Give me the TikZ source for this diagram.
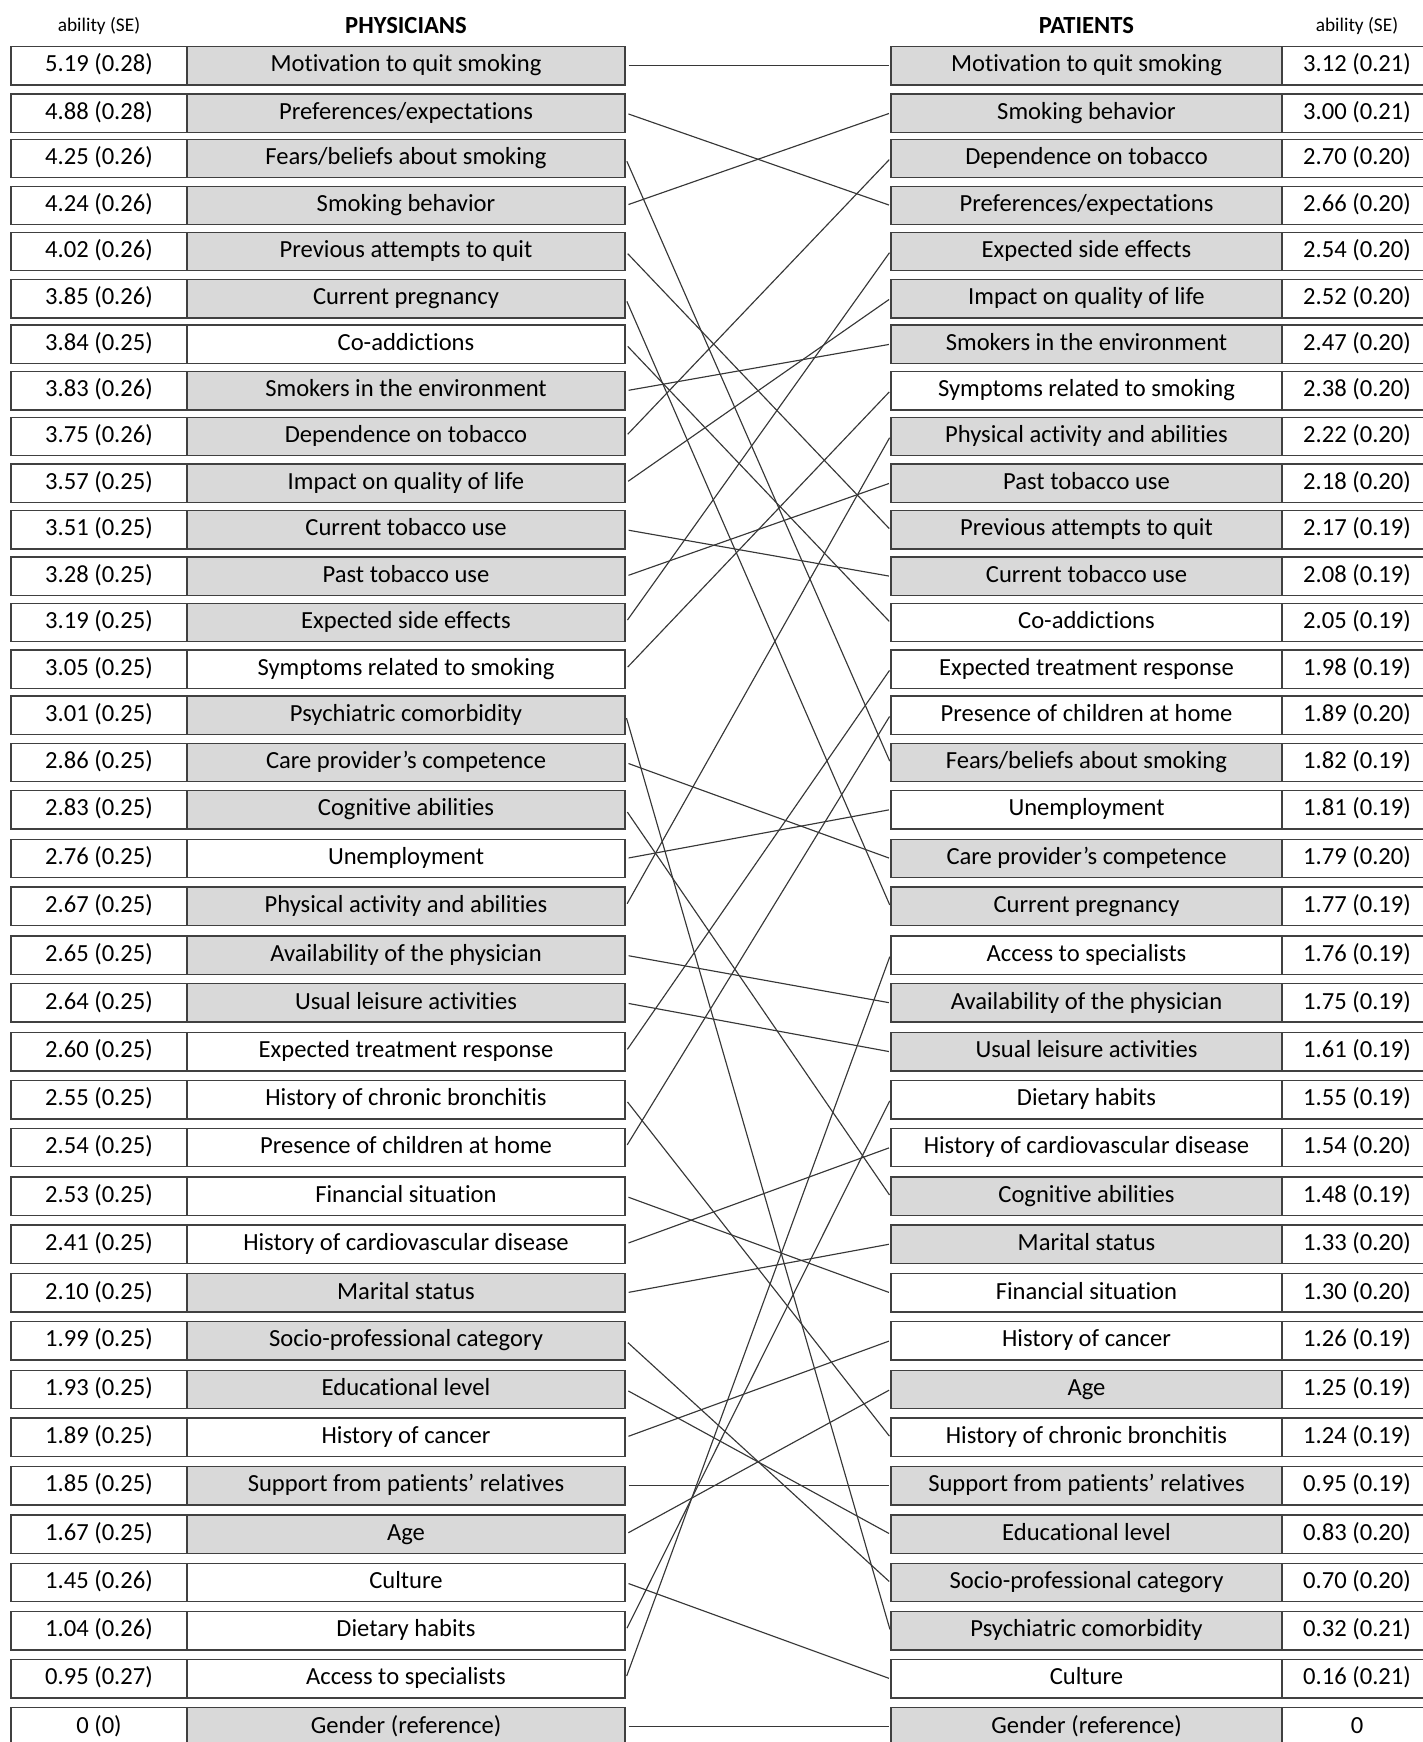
\documentclass[tikz,border=0pt]{standalone}
\usepackage{fontspec}
\setmainfont{Carlito}[Ligatures=NoCommon]
\usepackage{tikz}
\usetikzlibrary{positioning}
\definecolor{cellgray}{RGB}{217,217,217}
\definecolor{rimgray}{RGB}{64,64,64}
\definecolor{linkgray}{RGB}{55,55,55}

\begin{document}
\begin{tikzpicture}[x=0.02cm, y=-0.02cm,
    cell/.style={rectangle, draw=rimgray, line width=0.8pt, minimum height=0.768cm, inner sep=0pt, text height=9.6pt, text depth=2.6pt, fill=white, font=\fontsize{14}{16}\selectfont},
    valcell/.style={cell, minimum width=3.52cm},
    itemcell/.style={cell, minimum width=8.76cm},
    ritemcell/.style={cell, minimum width=7.82cm},
    rvalcell/.style={cell, minimum width=3.0cm},
    grey/.style={fill=cellgray},
    link/.style={draw=linkgray, line width=0.65pt, shorten <=0.06cm, shorten >=0.03cm}]
        \useasboundingbox (0,0) rectangle (1423,1742);
        \clip (0,0) rectangle (1423,1742);

        % headers
        \node[font=\fontsize{11}{13}\selectfont] (lhead) at (99,26) {ability (SE)};
        \node[font=\bfseries\fontsize{14}{16}\selectfont] (phys) at (406,26) {PHYSICIANS};
        \node[font=\bfseries\fontsize{14}{16}\selectfont] (pat) at (1086.5,26) {PATIENTS};
        \node[font=\fontsize{11}{13}\selectfont] (rhead) at (1357,26) {ability (SE)};

        % physicians
        \node[valcell] (lv1) at (99,65.8) {5.19 (0.28)};
        \node[itemcell, grey] (l1) at (406,65.8) {Motivation to quit smoking};
        \node[valcell] (lv2) at (99,113) {4.88 (0.28)};
        \node[itemcell, grey] (l2) at (406,113) {Preferences/expectations};
        \node[valcell] (lv3) at (99,158.5) {4.25 (0.26)};
        \node[itemcell, grey] (l3) at (406,158.5) {Fears/beliefs about smoking};
        \node[valcell] (lv4) at (99,205.5) {4.24 (0.26)};
        \node[itemcell, grey] (l4) at (406,205.5) {Smoking behavior};
        \node[valcell] (lv5) at (99,251.5) {4.02 (0.26)};
        \node[itemcell, grey] (l5) at (406,251.5) {Previous attempts to quit};
        \node[valcell] (lv6) at (99,298.6) {3.85 (0.26)};
        \node[itemcell, grey] (l6) at (406,298.6) {Current pregnancy};
        \node[valcell] (lv7) at (99,344.2) {3.84 (0.25)};
        \node[itemcell] (l7) at (406,344.2) {Co-addictions};
        \node[valcell] (lv8) at (99,390.8) {3.83 (0.26)};
        \node[itemcell, grey] (l8) at (406,390.8) {Smokers in the environment};
        \node[valcell] (lv9) at (99,436.4) {3.75 (0.26)};
        \node[itemcell, grey] (l9) at (406,436.4) {Dependence on tobacco};
        \node[valcell] (lv10) at (99,483) {3.57 (0.25)};
        \node[itemcell, grey] (l10) at (406,483) {Impact on quality of life};
        \node[valcell] (lv11) at (99,529.7) {3.51 (0.25)};
        \node[itemcell, grey] (l11) at (406,529.7) {Current tobacco use};
        \node[valcell] (lv12) at (99,576.3) {3.28 (0.25)};
        \node[itemcell, grey] (l12) at (406,576.3) {Past tobacco use};
        \node[valcell] (lv13) at (99,622.5) {3.19 (0.25)};
        \node[itemcell, grey] (l13) at (406,622.5) {Expected side effects};
        \node[valcell] (lv14) at (99,669.2) {3.05 (0.25)};
        \node[itemcell] (l14) at (406,669.2) {Symptoms related to smoking};
        \node[valcell] (lv15) at (99,715.2) {3.01 (0.25)};
        \node[itemcell, grey] (l15) at (406,715.2) {Psychiatric comorbidity};
        \node[valcell] (lv16) at (99,762.5) {2.86 (0.25)};
        \node[itemcell, grey] (l16) at (406,762.5) {Care provider’s competence};
        \node[valcell] (lv17) at (99,809.6) {2.83 (0.25)};
        \node[itemcell, grey] (l17) at (406,809.6) {Cognitive abilities};
        \node[valcell] (lv18) at (99,858.5) {2.76 (0.25)};
        \node[itemcell] (l18) at (406,858.5) {Unemployment};
        \node[valcell] (lv19) at (99,906.3) {2.67 (0.25)};
        \node[itemcell, grey] (l19) at (406,906.3) {Physical activity and abilities};
        \node[valcell] (lv20) at (99,955.2) {2.65 (0.25)};
        \node[itemcell, grey] (l20) at (406,955.2) {Availability of the physician};
        \node[valcell] (lv21) at (99,1002.9) {2.64 (0.25)};
        \node[itemcell, grey] (l21) at (406,1002.9) {Usual leisure activities};
        \node[valcell] (lv22) at (99,1051.8) {2.60 (0.25)};
        \node[itemcell] (l22) at (406,1051.8) {Expected treatment response};
        \node[valcell] (lv23) at (99,1099.6) {2.55 (0.25)};
        \node[itemcell] (l23) at (406,1099.6) {History of chronic bronchitis};
        \node[valcell] (lv24) at (99,1147.4) {2.54 (0.25)};
        \node[itemcell] (l24) at (406,1147.4) {Presence of children at home};
        \node[valcell] (lv25) at (99,1196.2) {2.53 (0.25)};
        \node[itemcell] (l25) at (406,1196.2) {Financial situation};
        \node[valcell] (lv26) at (99,1244) {2.41 (0.25)};
        \node[itemcell] (l26) at (406,1244) {History of cardiovascular disease};
        \node[valcell] (lv27) at (99,1292.9) {2.10 (0.25)};
        \node[itemcell, grey] (l27) at (406,1292.9) {Marital status};
        \node[valcell] (lv28) at (99,1340.6) {1.99 (0.25)};
        \node[itemcell, grey] (l28) at (406,1340.6) {Socio-professional category};
        \node[valcell] (lv29) at (99,1389.5) {1.93 (0.25)};
        \node[itemcell, grey] (l29) at (406,1389.5) {Educational level};
        \node[valcell] (lv30) at (99,1437.3) {1.89 (0.25)};
        \node[itemcell] (l30) at (406,1437.3) {History of cancer};
        \node[valcell] (lv31) at (99,1485.8) {1.85 (0.25)};
        \node[itemcell, grey] (l31) at (406,1485.8) {Support from patients’ relatives};
        \node[valcell] (lv32) at (99,1534.2) {1.67 (0.25)};
        \node[itemcell, grey] (l32) at (406,1534.2) {Age};
        \node[valcell] (lv33) at (99,1582.5) {1.45 (0.26)};
        \node[itemcell] (l33) at (406,1582.5) {Culture};
        \node[valcell] (lv34) at (99,1630.8) {1.04 (0.26)};
        \node[itemcell] (l34) at (406,1630.8) {Dietary habits};
        \node[valcell] (lv35) at (99,1678.8) {0.95 (0.27)};
        \node[itemcell] (l35) at (406,1678.8) {Access to specialists};
        \node[valcell] (lv36) at (99,1726.9) {0 (0)};
        \node[itemcell, grey] (l36) at (406,1726.9) {Gender (reference)};

        % patients
        \node[ritemcell, grey] (r1) at (1086.5,65.8) {Motivation to quit smoking};
        \node[rvalcell] (rv1) at (1357,65.8) {3.12 (0.21)};
        \node[ritemcell, grey] (r2) at (1086.5,113) {Smoking behavior};
        \node[rvalcell] (rv2) at (1357,113) {3.00 (0.21)};
        \node[ritemcell, grey] (r3) at (1086.5,158.5) {Dependence on tobacco};
        \node[rvalcell] (rv3) at (1357,158.5) {2.70 (0.20)};
        \node[ritemcell, grey] (r4) at (1086.5,205.5) {Preferences/expectations};
        \node[rvalcell] (rv4) at (1357,205.5) {2.66 (0.20)};
        \node[ritemcell, grey] (r5) at (1086.5,251.5) {Expected side effects};
        \node[rvalcell] (rv5) at (1357,251.5) {2.54 (0.20)};
        \node[ritemcell, grey] (r6) at (1086.5,298.6) {Impact on quality of life};
        \node[rvalcell] (rv6) at (1357,298.6) {2.52 (0.20)};
        \node[ritemcell, grey] (r7) at (1086.5,344.2) {Smokers in the environment};
        \node[rvalcell] (rv7) at (1357,344.2) {2.47 (0.20)};
        \node[ritemcell] (r8) at (1086.5,390.8) {Symptoms related to smoking};
        \node[rvalcell] (rv8) at (1357,390.8) {2.38 (0.20)};
        \node[ritemcell, grey] (r9) at (1086.5,436.4) {Physical activity and abilities};
        \node[rvalcell] (rv9) at (1357,436.4) {2.22 (0.20)};
        \node[ritemcell, grey] (r10) at (1086.5,483) {Past tobacco use};
        \node[rvalcell] (rv10) at (1357,483) {2.18 (0.20)};
        \node[ritemcell, grey] (r11) at (1086.5,529.7) {Previous attempts to quit};
        \node[rvalcell] (rv11) at (1357,529.7) {2.17 (0.19)};
        \node[ritemcell, grey] (r12) at (1086.5,576.3) {Current tobacco use};
        \node[rvalcell] (rv12) at (1357,576.3) {2.08 (0.19)};
        \node[ritemcell] (r13) at (1086.5,622.5) {Co-addictions};
        \node[rvalcell] (rv13) at (1357,622.5) {2.05 (0.19)};
        \node[ritemcell] (r14) at (1086.5,669.2) {Expected treatment response};
        \node[rvalcell] (rv14) at (1357,669.2) {1.98 (0.19)};
        \node[ritemcell] (r15) at (1086.5,715.2) {Presence of children at home};
        \node[rvalcell] (rv15) at (1357,715.2) {1.89 (0.20)};
        \node[ritemcell, grey] (r16) at (1086.5,762.5) {Fears/beliefs about smoking};
        \node[rvalcell] (rv16) at (1357,762.5) {1.82 (0.19)};
        \node[ritemcell] (r17) at (1086.5,809.6) {Unemployment};
        \node[rvalcell] (rv17) at (1357,809.6) {1.81 (0.19)};
        \node[ritemcell, grey] (r18) at (1086.5,858.5) {Care provider’s competence};
        \node[rvalcell] (rv18) at (1357,858.5) {1.79 (0.20)};
        \node[ritemcell, grey] (r19) at (1086.5,906.3) {Current pregnancy};
        \node[rvalcell] (rv19) at (1357,906.3) {1.77 (0.19)};
        \node[ritemcell] (r20) at (1086.5,955.2) {Access to specialists};
        \node[rvalcell] (rv20) at (1357,955.2) {1.76 (0.19)};
        \node[ritemcell, grey] (r21) at (1086.5,1002.9) {Availability of the physician};
        \node[rvalcell] (rv21) at (1357,1002.9) {1.75 (0.19)};
        \node[ritemcell, grey] (r22) at (1086.5,1051.8) {Usual leisure activities};
        \node[rvalcell] (rv22) at (1357,1051.8) {1.61 (0.19)};
        \node[ritemcell] (r23) at (1086.5,1099.6) {Dietary habits};
        \node[rvalcell] (rv23) at (1357,1099.6) {1.55 (0.19)};
        \node[ritemcell] (r24) at (1086.5,1147.4) {History of cardiovascular disease};
        \node[rvalcell] (rv24) at (1357,1147.4) {1.54 (0.20)};
        \node[ritemcell, grey] (r25) at (1086.5,1196.2) {Cognitive abilities};
        \node[rvalcell] (rv25) at (1357,1196.2) {1.48 (0.19)};
        \node[ritemcell, grey] (r26) at (1086.5,1244) {Marital status};
        \node[rvalcell] (rv26) at (1357,1244) {1.33 (0.20)};
        \node[ritemcell] (r27) at (1086.5,1292.9) {Financial situation};
        \node[rvalcell] (rv27) at (1357,1292.9) {1.30 (0.20)};
        \node[ritemcell] (r28) at (1086.5,1340.6) {History of cancer};
        \node[rvalcell] (rv28) at (1357,1340.6) {1.26 (0.19)};
        \node[ritemcell, grey] (r29) at (1086.5,1389.5) {Age};
        \node[rvalcell] (rv29) at (1357,1389.5) {1.25 (0.19)};
        \node[ritemcell] (r30) at (1086.5,1437.3) {History of chronic bronchitis};
        \node[rvalcell] (rv30) at (1357,1437.3) {1.24 (0.19)};
        \node[ritemcell, grey] (r31) at (1086.5,1485.8) {Support from patients’ relatives};
        \node[rvalcell] (rv31) at (1357,1485.8) {0.95 (0.19)};
        \node[ritemcell, grey] (r32) at (1086.5,1534.2) {Educational level};
        \node[rvalcell] (rv32) at (1357,1534.2) {0.83 (0.20)};
        \node[ritemcell, grey] (r33) at (1086.5,1582.5) {Socio-professional category};
        \node[rvalcell] (rv33) at (1357,1582.5) {0.70 (0.20)};
        \node[ritemcell, grey] (r34) at (1086.5,1630.8) {Psychiatric comorbidity};
        \node[rvalcell] (rv34) at (1357,1630.8) {0.32 (0.21)};
        \node[ritemcell] (r35) at (1086.5,1678.8) {Culture};
        \node[rvalcell] (rv35) at (1357,1678.8) {0.16 (0.21)};
        \node[ritemcell, grey] (r36) at (1086.5,1726.9) {Gender (reference)};
        \node[rvalcell] (rv36) at (1357,1726.9) {0};

        % rank changes
        \draw[link] (l1.east) -- (r1.west);
        \draw[link] (l2.east) -- (r4.west);
        \draw[link] (l3.east) -- (r16.west);
        \draw[link] (l4.east) -- (r2.west);
        \draw[link] (l5.east) -- (r11.west);
        \draw[link] (l6.east) -- (r19.west);
        \draw[link] (l7.east) -- (r13.west);
        \draw[link] (l8.east) -- (r7.west);
        \draw[link] (l9.east) -- (r3.west);
        \draw[link] (l10.east) -- (r6.west);
        \draw[link] (l11.east) -- (r12.west);
        \draw[link] (l12.east) -- (r10.west);
        \draw[link] (l13.east) -- (r5.west);
        \draw[link] (l14.east) -- (r8.west);
        \draw[link] (l15.east) -- (r34.west);
        \draw[link] (l16.east) -- (r18.west);
        \draw[link] (l17.east) -- (r25.west);
        \draw[link] (l18.east) -- (r17.west);
        \draw[link] (l19.east) -- (r9.west);
        \draw[link] (l20.east) -- (r21.west);
        \draw[link] (l21.east) -- (r22.west);
        \draw[link] (l22.east) -- (r14.west);
        \draw[link] (l23.east) -- (r30.west);
        \draw[link] (l24.east) -- (r15.west);
        \draw[link] (l25.east) -- (r27.west);
        \draw[link] (l26.east) -- (r24.west);
        \draw[link] (l27.east) -- (r26.west);
        \draw[link] (l28.east) -- (r33.west);
        \draw[link] (l29.east) -- (r32.west);
        \draw[link] (l30.east) -- (r28.west);
        \draw[link] (l31.east) -- (r31.west);
        \draw[link] (l32.east) -- (r29.west);
        \draw[link] (l33.east) -- (r35.west);
        \draw[link] (l34.east) -- (r23.west);
        \draw[link] (l35.east) -- (r20.west);
        \draw[link] (l36.east) -- (r36.west);
    \end{tikzpicture}
\end{document}
